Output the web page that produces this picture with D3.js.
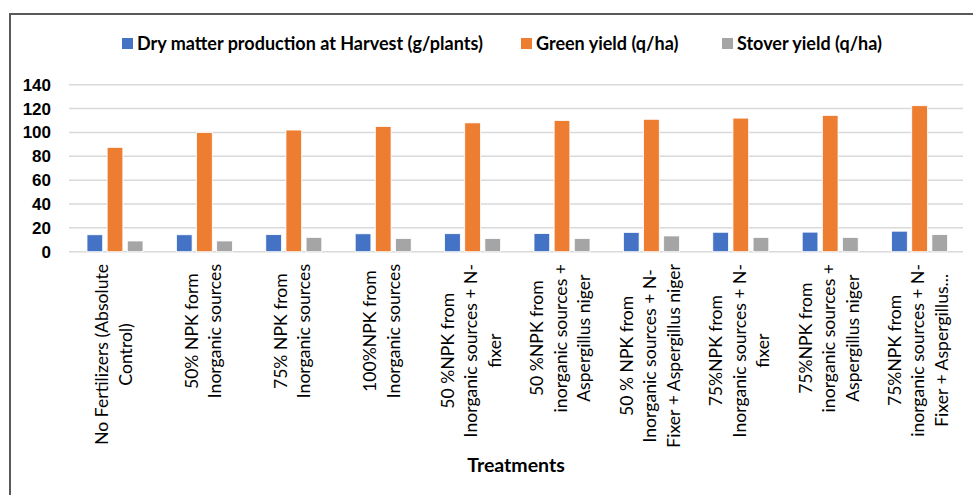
<html>
<head>
    <title>Treatments chart</title>
    <script src="https://cdn.jsdelivr.net/npm/d3@7"></script>
    <style>
        body { margin: 0; background: #fff; }
        svg { font-family: "Lato", "Open Sans", sans-serif; }
        .tick text { font-weight: bold; font-size: 17px; fill: #000; }
    </style>
</head>
<body>
<script>
var width = 973;
var height = 495;

// data
var treatments = [
    ["No Fertilizers (Absolute", "Control)"],
    ["50% NPK form", "Inorganic sources"],
    ["75% NPK from", "Inorganic sources"],
    ["100%NPK from", "Inorganic sources"],
    ["50 %NPK from", "Inorganic sources + N-", "fixer"],
    ["50 %NPK from", "inorganic sources +", "Aspergillus niger"],
    ["50 % NPK from", "Inorganic sources + N-", "Fixer + Aspergillus niger"],
    ["75%NPK from", "Inorganic sources + N-", "fixer"],
    ["75%NPK from", "inorganic sources +", "Aspergillus niger"],
    ["75%NPK from", "inorganic sources + N-", "Fixer + Aspergillus..."]
];
var dryMatter = [14.2, 14.2, 14.3, 15.0, 15.1, 15.2, 16.2, 16.3, 16.4, 17.2];
var greenYield = [87.5, 100, 102, 105, 108, 110, 111, 112, 114.3, 122.4];
var stoverYield = [9, 9, 12, 11, 11, 11, 13.2, 12, 12, 14.3];
var seriesNames = ["Dry matter production at Harvest (g/plants)", "Green yield (q/ha)", "Stover yield (q/ha)"];
var seriesColors = ["#4472C4", "#ED7D31", "#A5A5A5"];
var yTicks = [0, 20, 40, 60, 80, 100, 120, 140];

var series = [dryMatter, greenYield, stoverYield];

var svg = d3.select("body").append("svg")
    .attr("width", width)
    .attr("height", height);

// chart frame (only top and left edges visible)
svg.append("path")
    .attr("d", "M10,495 L10,14 L973,14")
    .attr("fill", "none")
    .attr("stroke", "#595959")
    .attr("stroke-width", 2);

var plotLeft = 69, plotRight = 963, plotTop = 84.7, plotBottom = 251.7;

var x = d3.scaleBand()
    .domain(d3.range(treatments.length))
    .range([plotLeft, plotRight]);

var xInner = d3.scaleBand()
    .domain(d3.range(series.length))
    .range([18, 74])
    .paddingInner(0.22);

var y = d3.scaleLinear()
    .domain([0, 140])
    .range([plotBottom, plotTop]);

// gridlines
svg.append("g")
    .selectAll("line")
    .data(yTicks)
    .enter().append("line")
    .attr("x1", plotLeft).attr("x2", plotRight)
    .attr("y1", function(d) { return y(d); })
    .attr("y2", function(d) { return y(d); })
    .attr("stroke", "#d9d9d9")
    .attr("stroke-width", 1.5);

var yAxis = svg.append("g")
    .attr("transform", "translate(" + (plotLeft - 18) + ",0)")
    .call(d3.axisLeft(y).tickValues(yTicks).tickSize(0).tickPadding(0));
yAxis.select(".domain").remove();

// bars
series.forEach(function(vals, s) {
    svg.append("g")
        .selectAll("rect")
        .data(vals)
        .enter().append("rect")
        .attr("x", function(d, i) { return x(i) + xInner(s); })
        .attr("width", xInner.bandwidth())
        .attr("y", function(d) { return y(d); })
        .attr("height", function(d) { return y(0) - y(d); })
        .attr("fill", seriesColors[s])
        .attr("stroke", "#fff")
        .attr("stroke-width", 0.8);
});

// category labels, rotated, lines centred on the longest one
var labels = svg.append("g")
    .selectAll("g")
    .data(treatments)
    .enter().append("g");

labels.each(function(lines, i) {
    var g = d3.select(this);
    var t = g.append("text")
        .attr("text-anchor", "middle")
        .style("font-size", "17.6px")
        .attr("fill", "#000");
    var lineH = 23.5;
    var cx = x(i) + x.bandwidth() / 2;
    t.selectAll("tspan")
        .data(lines)
        .enter().append("tspan")
        .attr("x", 0)
        .attr("y", function(d, k) { return (k - (lines.length - 1) / 2) * lineH; })
        .attr("dy", "0.35em")
        .text(function(d) { return d; });
    var w = d3.max(t.selectAll("tspan").nodes(), function(n) { return n.getComputedTextLength(); });
    g.attr("transform", "translate(" + cx + "," + (264 + w / 2) + ") rotate(-90)");
});

// axis title
svg.append("text")
    .attr("x", 516)
    .attr("y", 472)
    .attr("text-anchor", "middle")
    .style("font-size", "19.5px")
    .style("font-weight", "bold")
    .text("Treatments");

// legend
var legendX = [122, 521, 722];
var legend = svg.append("g")
    .selectAll("g")
    .data(seriesNames)
    .enter().append("g")
    .attr("transform", function(d, i) { return "translate(" + legendX[i] + ",38)"; });
legend.append("rect")
    .attr("width", 11).attr("height", 11)
    .attr("fill", function(d, i) { return seriesColors[i]; });
legend.append("text")
    .attr("x", 15).attr("y", 6)
    .attr("dy", "0.35em")
    .style("font-size", "18px")
    .style("font-weight", "bold")
    .text(function(d) { return d; });
</script>
</body>
</html>
